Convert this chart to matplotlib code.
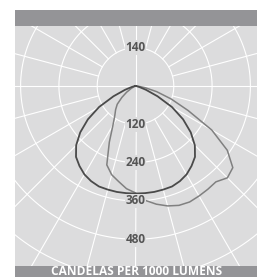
import numpy as np
import matplotlib
matplotlib.use("Agg")
import matplotlib.pyplot as plt
from matplotlib.patches import Rectangle

# ---- data (candela per 1000 lumens, angle from nadir in degrees) ----
angles_deg = [0, 5, 10, 15, 20, 25, 30, 35, 40, 45, 50, 55, 60, 65, 70, 75, 80, 85, 90]
dark_cd = [337, 337, 337, 336, 335, 329, 320, 306, 290, 263, 226, 182, 132, 76, 35, 13, 4, 0, 0]
grey_left_cd = [335, 323, 304, 288, 263, 194, 141, 113, 97, 81, 56, 34, 16, 6, 0, 0, 0, 0, 0]
grey_right_cd = [335, 360, 376, 389, 398, 401, 398, 395, 392, 407, 398, 351, 276, 182, 119, 69, 31, 9, 0]

ring_values = [120, 240, 360, 480, 600, 720]
ring_labels_down = ["120", "240", "360", "480"]
ring_label_up = "140"
footer = "CANDELAS PER 1000 LUMENS"

# ---- styling ----
W, H = 263, 277
panel_col = "#dcdcdd"
bar_col = "#949497"
text_col = "#555555"
dark_col = "#4a4a4a"
grey_col = "#808080"
R_MAX = 720
PX_PER_CD = 38.3 / 120.0

fig = plt.figure(figsize=(W / 100, H / 100), dpi=100)
fig.patch.set_facecolor("white")

def fx(px):
    return px / W

def fy(py):
    return 1 - py / H

# panel and bars (figure coords)
px0, px1 = 15, 257
py_top, py_mid_top, py_mid_bot, py_bot = 10, 26, 266, 277
panel = Rectangle((fx(px0), fy(py_mid_bot)), fx(px1) - fx(px0), fy(py_mid_top) - fy(py_mid_bot),
                  transform=fig.transFigure, facecolor=panel_col, edgecolor="none", zorder=-10)
fig.add_artist(panel)
topbar = Rectangle((fx(px0), fy(py_mid_top)), fx(px1) - fx(px0), fy(py_top) - fy(py_mid_top),
                   transform=fig.transFigure, facecolor=bar_col, edgecolor="none", zorder=-10)
fig.add_artist(topbar)
botbar = Rectangle((fx(px0), 0), fx(px1) - fx(px0), fy(py_mid_bot),
                   transform=fig.transFigure, facecolor=bar_col, edgecolor="none", zorder=-10)
fig.add_artist(botbar)
fig.text(fx(136.5), fy(271.3), footer, ha="center", va="center", color="white",
         fontsize=8.6, fontweight="bold", family="Open Sans")

# polar axes centred on the luminaire
cx, cy = 135.5, 86
rad_px = R_MAX * PX_PER_CD
ax = fig.add_axes([fx(cx - rad_px), fy(cy + rad_px), 2 * rad_px / W, 2 * rad_px / H],
                  projection="polar")
ax.set_theta_zero_location("S")
ax.set_theta_direction(1)
ax.set_rlim(0, R_MAX)
ax.patch.set_visible(False)
ax.spines["polar"].set_visible(False)
ax.grid(False)
ax.set_xticks([])
ax.set_yticks([])

clip = Rectangle((fx(px0), fy(py_mid_bot)), fx(px1) - fx(px0), fy(py_mid_top) - fy(py_mid_bot),
                 transform=fig.transFigure, facecolor="none", edgecolor="none")

artists = []
# rings
tt = np.linspace(0, 2 * np.pi, 721)
for rv in ring_values:
    artists += ax.plot(tt, np.full_like(tt, rv), color="white", lw=0.8, zorder=1)
# spokes
for deg in range(0, 360, 15):
    t = np.deg2rad(deg)
    r0 = 0 if deg % 90 == 0 else ring_values[0]
    artists += ax.plot([t, t], [r0, R_MAX], color="white", lw=0.8, zorder=1)

# curves
a = np.deg2rad(np.array(angles_deg, dtype=float))
dark_theta = np.concatenate([-a[::-1], a[1:]])
dark_r = np.concatenate([np.array(dark_cd)[::-1], np.array(dark_cd)[1:]])
grey_theta = np.concatenate([-a[::-1], a[1:]])
grey_r = np.concatenate([np.array(grey_left_cd)[::-1], np.array(grey_right_cd)[1:]])
artists += ax.plot(grey_theta, grey_r, color=grey_col, lw=1.1, zorder=3)
artists += ax.plot(dark_theta, dark_r, color=dark_col, lw=1.3, zorder=4)

for art in artists:
    art.set_clip_path(clip)

# ring labels
lab_kw = dict(ha="center", va="center", color=text_col, fontsize=8.5, fontweight="bold",
              family="Open Sans", zorder=6,
              bbox=dict(facecolor=panel_col, edgecolor="none", pad=0.6))
for rv, lab in zip(ring_values, ring_labels_down):
    ax.text(0, rv, lab, **lab_kw)
ax.text(np.pi, ring_values[0], ring_label_up, **lab_kw)

fig.savefig("out.png", dpi=100, facecolor="white")
